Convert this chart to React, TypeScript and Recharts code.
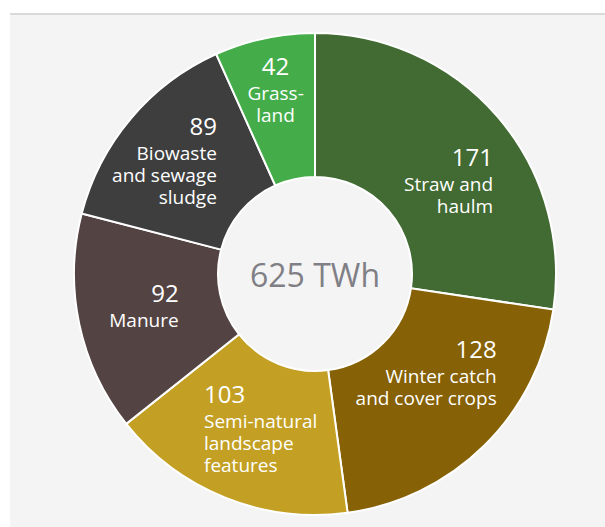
import React from 'react';
import { PieChart, Pie, Cell } from 'recharts';

// Biomass potential by source, TWh
const categories = [
  'Straw and haulm',
  'Winter catch and cover crops',
  'Semi-natural landscape features',
  'Manure',
  'Biowaste and sewage sludge',
  'Grassland',
];
const values = [171, 128, 103, 92, 89, 42];
const labelLines = [
  ['Straw and', 'haulm'],
  ['Winter catch', 'and cover crops'],
  ['Semi-natural', 'landscape', 'features'],
  ['Manure'],
  ['Biowaste', 'and sewage', 'sludge'],
  ['Grass-', 'land'],
];
const totalLabel = '625 TWh';

const COLORS = ['#426a33', '#866105', '#c3a024', '#544343', '#3e3e3e', '#44ad4a'];

// label placement relative to slice centroid
const LABEL_LAYOUT = [
  { anchor: 'end', dx: 50, dy: 2 },
  { anchor: 'end', dx: 63, dy: -36 },
  { anchor: 'start', dx: -48, dy: -28 },
  { anchor: 'end', dx: 29, dy: -7 },
  { anchor: 'end', dx: 31, dy: -30 },
  { anchor: 'middle', dx: -4, dy: -34 },
];

const data = categories.map((name, i) => ({ name, value: values[i] }));

const FONT = '"Open Sans", sans-serif';
const RADIAN = Math.PI / 180;

const renderLabel = (props: any) => {
  const { cx, cy, midAngle, innerRadius, outerRadius, index, value } = props;
  const r = (innerRadius + outerRadius) / 2;
  const x = cx + r * Math.cos(-midAngle * RADIAN);
  const y = cy + r * Math.sin(-midAngle * RADIAN);
  const lay = LABEL_LAYOUT[index];
  const tx = x + lay.dx;
  const ty = y + lay.dy;
  return (
    <g>
      <text x={tx} y={ty} fill="#fff" fontSize={24} fontFamily={FONT} textAnchor={lay.anchor}>
        {value}
      </text>
      {labelLines[index].map((line, j) => (
        <text
          key={j}
          x={tx}
          y={ty + 25 + j * 22}
          fill="#fff"
          fontSize={19}
          fontFamily={FONT}
          textAnchor={lay.anchor}
        >
          {line}
        </text>
      ))}
    </g>
  );
};

const App = () => (
  <div style={{ position: 'absolute', left: 0, top: 0, width: 605, height: 527, background: '#fff' }}>
    <div
      style={{
        position: 'absolute',
        left: 10,
        top: 13,
        right: 0,
        bottom: 0,
        background: '#f4f4f4',
        borderTop: '2px solid #d9d9d9',
      }}
    />
    <div style={{ position: 'absolute', left: 0, top: 0 }}>
      <PieChart width={605} height={527} margin={{ top: 0, right: 0, bottom: 0, left: 0 }}>
        <Pie
          data={data}
          dataKey="value"
          cx={315}
          cy={274}
          innerRadius={97}
          outerRadius={241}
          startAngle={90}
          endAngle={-270}
          stroke="#ffffff"
          strokeWidth={2}
          label={renderLabel}
          labelLine={false}
          isAnimationActive={false}
        >
          {data.map((entry, index) => (
            <Cell key={`cell-${index}`} fill={COLORS[index % COLORS.length]} />
          ))}
        </Pie>
        <text x={315} y={287} textAnchor="middle" fill="#7f7f85" fontSize={32} fontFamily={FONT}>
          {totalLabel}
        </text>
      </PieChart>
    </div>
  </div>
);

export default App;
